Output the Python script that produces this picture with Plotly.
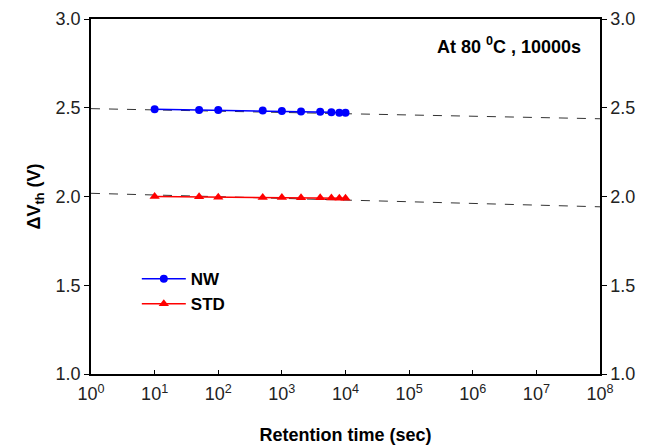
import plotly.graph_objects as go

# Data
time_s = [10, 50, 100, 500, 1000, 2000, 4000, 6000, 8000, 10000]
nw_vth = [2.492, 2.488, 2.487, 2.484, 2.482, 2.479, 2.477, 2.474, 2.472, 2.472]
std_vth = [2.000, 1.998, 1.996, 1.995, 1.994, 1.993, 1.993, 1.992, 1.990, 1.990]
fit_t = [1, 1e8]
nw_fit = [2.495, 2.438]
std_fit = [2.018, 1.942]
x_tickvals = [1, 10, 100, 1e3, 1e4, 1e5, 1e6, 1e7, 1e8]
x_ticktext = ["10<sup>%d</sup>" % i for i in range(9)]
y_tickvals = [1.0, 1.5, 2.0, 2.5, 3.0]

FONT = "Liberation Sans, Arial, sans-serif"

fig = go.Figure()
fig.add_trace(go.Scatter(x=fit_t, y=nw_fit, mode="lines", showlegend=False,
                         line=dict(color="#333333", width=1, dash="dash")))
fig.add_trace(go.Scatter(x=fit_t, y=std_fit, mode="lines", showlegend=False,
                         line=dict(color="#333333", width=1, dash="dash")))
fig.add_trace(go.Scatter(x=time_s, y=nw_vth, mode="lines+markers", name="<b>NW</b>",
                         line=dict(color="#0000ff", width=1.5),
                         marker=dict(symbol="circle", size=8, color="#0000ff")))
fig.add_trace(go.Scatter(x=time_s, y=std_vth, mode="lines+markers", name="<b>STD</b>",
                         line=dict(color="#ff0000", width=1.5),
                         marker=dict(symbol="triangle-up", size=9, color="#ff0000")))
# invisible trace for right axis
fig.add_trace(go.Scatter(x=[1], y=[1], yaxis="y2", mode="markers", showlegend=False,
                         marker=dict(opacity=0), hoverinfo="skip"))

fig.update_layout(
    width=653, height=445,
    margin=dict(l=91, r=53, t=19, b=71),
    paper_bgcolor="white", plot_bgcolor="white",
    font=dict(family=FONT, size=18, color="#222222"),
    xaxis=dict(type="log", range=[0, 8], tickvals=x_tickvals, ticktext=x_ticktext,
               ticks="inside", ticklen=4, tickcolor="black", showgrid=False,
               showline=True, linecolor="black", linewidth=1.5, mirror=True,
               zeroline=False, automargin=False, tickfont=dict(size=18),
               ticklabelstandoff=3,
               title=dict(text="<b>Retention time (sec)</b>", font=dict(size=18, color="black"),
                          standoff=26)),
    yaxis=dict(range=[1.0, 3.0], tickvals=y_tickvals, tickformat=".1f",
               ticks="outside", ticklen=5, tickcolor="black", showgrid=False,
               showline=True, linecolor="black", linewidth=1.5, zeroline=False,
               automargin=False, tickfont=dict(size=18),
               title=dict(text="<b>ΔV<sub>th</sub> (V)</b>", font=dict(size=18, color="black"),
                          standoff=10)),
    yaxis2=dict(range=[1.0, 3.0], tickvals=y_tickvals, tickformat=".1f",
                overlaying="y", side="right", automargin=False, tickfont=dict(size=18),
                ticks="outside", ticklen=5, tickcolor="black", showgrid=False,
                showline=True, linecolor="black", linewidth=1.5, zeroline=False),
    legend=dict(x=0.09, y=0.318, xanchor="left", yanchor="top", itemwidth=44,
                bgcolor="rgba(0,0,0,0)", font=dict(size=17, color="black", family=FONT),
                tracegroupgap=0),
    annotations=[dict(text="<b>At 80 <sup>0</sup>C , 10000s</b>", xref="paper", yref="paper",
                      x=0.967, y=0.925, xanchor="right", yanchor="middle", showarrow=False,
                      font=dict(size=18, color="black"))],
)
fig.write_html("out.html", config={"displayModeBar": False},
               post_script="document.body.style.margin='0';")
